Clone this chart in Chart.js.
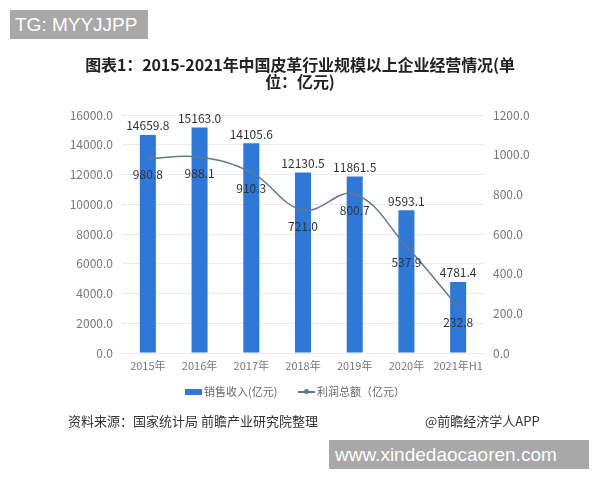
<!DOCTYPE html>
<html>
<head>
<meta charset="utf-8">
<script src="https://cdn.jsdelivr.net/npm/chart.js@4"></script>
<style>
  html,body{margin:0;padding:0;background:#fff;}
  #wrap{position:relative;width:600px;height:480px;overflow:hidden;font-family:"Noto Sans CJK SC",sans-serif;}
  canvas{position:absolute;left:0;top:0;}
  .title{position:absolute;left:0;top:56px;width:600px;text-align:center;font-size:16px;font-weight:bold;line-height:17px;color:#222;letter-spacing:-0.1px;}
  .box{position:absolute;background:#a8a8a8;color:#fff;font-family:"Liberation Sans",Arial,sans-serif;}
  .src{position:absolute;top:411px;font-size:13px;color:#333;}
  .leg{position:absolute;top:383px;font-size:11px;color:#666;}
  .sw{position:absolute;}
</style>
</head>
<body>
<div id="wrap">
  <canvas id="c" width="600" height="480"></canvas>
  <div class="title">图表1：2015-2021年中国皮革行业规模以上企业经营情况(单<br>位：亿元)</div>
  <div class="box" style="left:10px;top:10px;width:138px;height:29px;font-size:19px;line-height:29px;padding-left:5px;box-sizing:border-box;">TG: MYYJJPP</div>
  <div class="box" style="left:329px;top:440px;width:260px;height:29px;font-size:19px;line-height:29px;padding-left:6px;box-sizing:border-box;">www.xindedaocaoren.com</div>
  <div class="sw" style="left:185px;top:389px;width:17px;height:6px;background:#2f78d8;"></div>
  <div class="leg" style="left:204px;">销售收入(亿元)</div>
  <div class="sw" style="left:298px;top:391px;width:17px;height:1.5px;background:#60788f;"></div>
  <div class="sw" style="left:304px;top:389px;width:5px;height:5px;border-radius:50%;background:#60788f;"></div>
  <div class="leg" style="left:317px;">利润总额（亿元）</div>
  <div class="src" style="left:68px;">资料来源：国家统计局 前瞻产业研究院整理</div>
  <div class="src" style="left:425px;">@前瞻经济学人APP</div>
</div>
<script>
const categories = ["2015年","2016年","2017年","2018年","2019年","2020年","2021年H1"];
const salesRevenue = [14659.8, 15163.0, 14105.6, 12130.5, 11861.5, 9593.1, 4781.4];
const totalProfit = [980.8, 988.1, 910.3, 721.0, 800.7, 537.9, 232.8];
const seriesNames = ["销售收入(亿元)", "利润总额（亿元）"];

const labelPlugin = {
  id: 'valueLabels',
  afterDatasetsDraw(chart) {
    const ctx = chart.ctx;
    ctx.save();
    ctx.font = '12px "Noto Sans CJK SC", sans-serif';
    ctx.fillStyle = '#333';
    ctx.textAlign = 'center';
    chart.data.datasets.forEach((ds, i) => {
      const meta = chart.getDatasetMeta(i);
      meta.data.forEach((el, j) => {
        const txt = ds.data[j].toFixed(1);
        if (ds.type === 'bar') {
          ctx.textBaseline = 'bottom';
          ctx.fillText(txt, el.x, el.y - 3);
        } else {
          ctx.textBaseline = 'middle';
          ctx.fillText(txt, el.x, el.y + 16);
        }
      });
    });
    ctx.restore();
  }
};

new Chart(document.getElementById('c'), {
  data: {
    labels: categories,
    datasets: [
      {
        type: 'line',
        label: seriesNames[1],
        data: totalProfit,
        yAxisID: 'y1',
        borderColor: '#60788f',
        backgroundColor: '#60788f',
        borderWidth: 1.5,
        tension: 0.4,
        pointRadius: 0,
        order: 0
      },
      {
        type: 'bar',
        label: seriesNames[0],
        data: salesRevenue,
        yAxisID: 'y',
        backgroundColor: '#2f78d8',
        categoryPercentage: 1,
        barPercentage: 0.31,
        order: 1
      }
    ]
  },
  options: {
    responsive: false,
    animation: false,
    layout: { padding: { top: 115, bottom: 105, left: 0, right: 0 } },
    plugins: { legend: { display: false }, tooltip: { enabled: false }, title: { display: false } },
    scales: {
      x: {
        grid: { display: false, drawTicks: false },
        border: { display: false },
        ticks: { color: '#777', font: { size: 11, family: '"Noto Sans CJK SC", sans-serif' }, padding: 6, maxRotation: 0, autoSkip: false },
        afterFit(s) { s.height = 22; }
      },
      y: {
        position: 'left',
        min: 0, max: 16000,
        grid: { color: '#ebebeb', drawTicks: false },
        border: { display: false },
        ticks: { stepSize: 2000, color: '#777', padding: 9, font: { size: 12, family: '"Noto Sans CJK SC", sans-serif' }, callback: v => v.toFixed(1) },
        afterFit(s) { s.width = 122; }
      },
      y1: {
        position: 'right',
        min: 0, max: 1200,
        grid: { display: false, drawTicks: false },
        border: { display: false },
        ticks: { stepSize: 200, color: '#777', padding: 9, font: { size: 12, family: '"Noto Sans CJK SC", sans-serif' }, callback: v => v.toFixed(1) },
        afterFit(s) { s.width = 116; }
      }
    }
  },
  plugins: [labelPlugin]
});
</script>
</body>
</html>
